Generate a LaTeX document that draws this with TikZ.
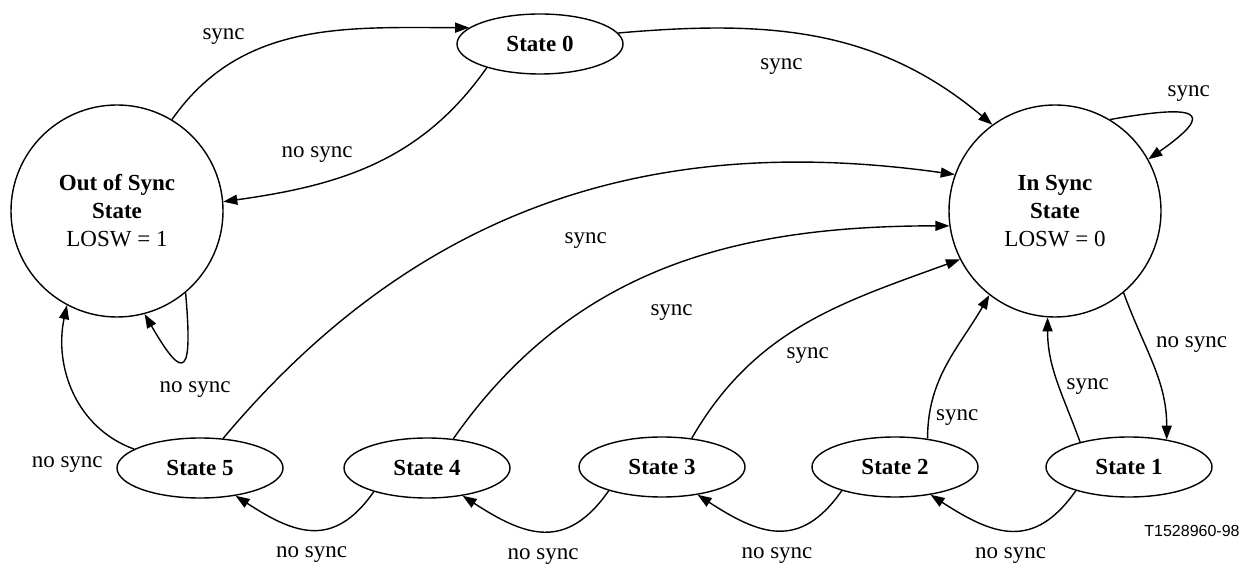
\documentclass[tikz,border=0pt]{standalone}
\usepackage{fontspec}
\setmainfont{Liberation Serif}
\newfontfamily\figsans{Liberation Sans}
\usetikzlibrary{arrows.meta,shapes.geometric}

\begin{document}
\begin{tikzpicture}[x=0.5pt,y=0.5pt,>={Triangle[length=7pt,width=5pt]},
		font=\fontsize{11.5}{14}\selectfont]
			\useasboundingbox (0,0) rectangle (1240,-565);
			
			\begin{scope}[every node/.style={circle,draw,line width=0.7pt,minimum size=106pt,inner sep=0pt,align=center}]
				\node (out) at (117,-211) {\textbf{Out of Sync}\\\textbf{State}\\LOSW = 1};
				\node (ins) at (1055,-211) {\textbf{In Sync}\\\textbf{State}\\LOSW = 0};
			\end{scope}
			
			\begin{scope}[every node/.style={ellipse,draw,line width=0.7pt,minimum width=83pt,minimum height=30pt,inner sep=0pt,font=\fontsize{11.5}{14}\selectfont\bfseries}]
				\node (s0) at (540,-44) {State 0};
				\node (s5) at (200,-468) {State 5};
				\node (s4) at (427,-468) {State 4};
				\node (s3) at (662,-467) {State 3};
				\node (s2) at (895,-467) {State 2};
				\node (s1) at (1129,-467) {State 1};
			\end{scope}
			
			\node (code) at (1192,-531) {\figsans\fontsize{8}{10}\selectfont T1528960-98};
			
			\begin{scope}[every edge/.style={draw=black,line width=0.7pt}]
				\path [->] (out.59) edge [out=55,in=180] node [pos=0.33,above left] {sync} (s0.167);
				\path [->] (s0.204) edge [out=235,in=8] node [pos=0.55,above left] {no sync} (out.5);
				\path [->] (s0.8) edge [out=5,in=140] node [pos=0.4,below=10pt] {sync} (ins.126);
				\path [->] (ins.59) edge [out=10,in=35,looseness=4] node [pos=0.4,above,xshift=4pt,yshift=2pt] {sync} (ins.29);
				\path [->] (s5.52) edge [out=50,in=172] node [pos=0.5,below right,xshift=4pt,yshift=-11pt] {sync} (ins.160);
				\path [->] (s4.48) edge [out=55,in=180] node [pos=0.45,below right,yshift=-10pt] {sync} (ins.188);
				\path [->] (s3.44) edge [out=60,in=200] node [pos=0.4,below right] {sync} (ins.207);
				\path [->] (s2.41) edge [out=90,in=240] node [pos=0.12,right] {sync} (ins.232);
				\path [->] (s1.153) edge [out=110,in=270] node [pos=0.45,right] {sync} (ins.266);
				\path [->] (ins.310) edge [out=-70,in=90] node [pos=0.35,right,xshift=2pt] {no sync} (s1.36);
				\path [->] (out.310) edge [out=-85,in=-60,looseness=4.5] node [pos=0.5,below,xshift=6pt,yshift=-7pt] {no sync} (out.285);
				\path [->] (s5.164) edge [out=160,in=258] node [pos=0,below left,xshift=-12pt,yshift=0pt] {no sync} (out.242);
				% no sync chain along the bottom
				\path [->] (s4.204) edge [out=235,in=-33,looseness=1.3] node [below=5pt] {no sync} (s5.322);
				\path [->] (s3.204) edge [out=235,in=-33,looseness=1.3] node [below=5pt] {no sync} (s4.322);
				\path [->] (s2.204) edge [out=235,in=-33,looseness=1.3] node [below=5pt] {no sync} (s3.322);
				\path [->] (s1.204) edge [out=235,in=-33,looseness=1.3] node [below=5pt] {no sync} (s2.322);
			\end{scope}
		\end{tikzpicture}
\end{document}
